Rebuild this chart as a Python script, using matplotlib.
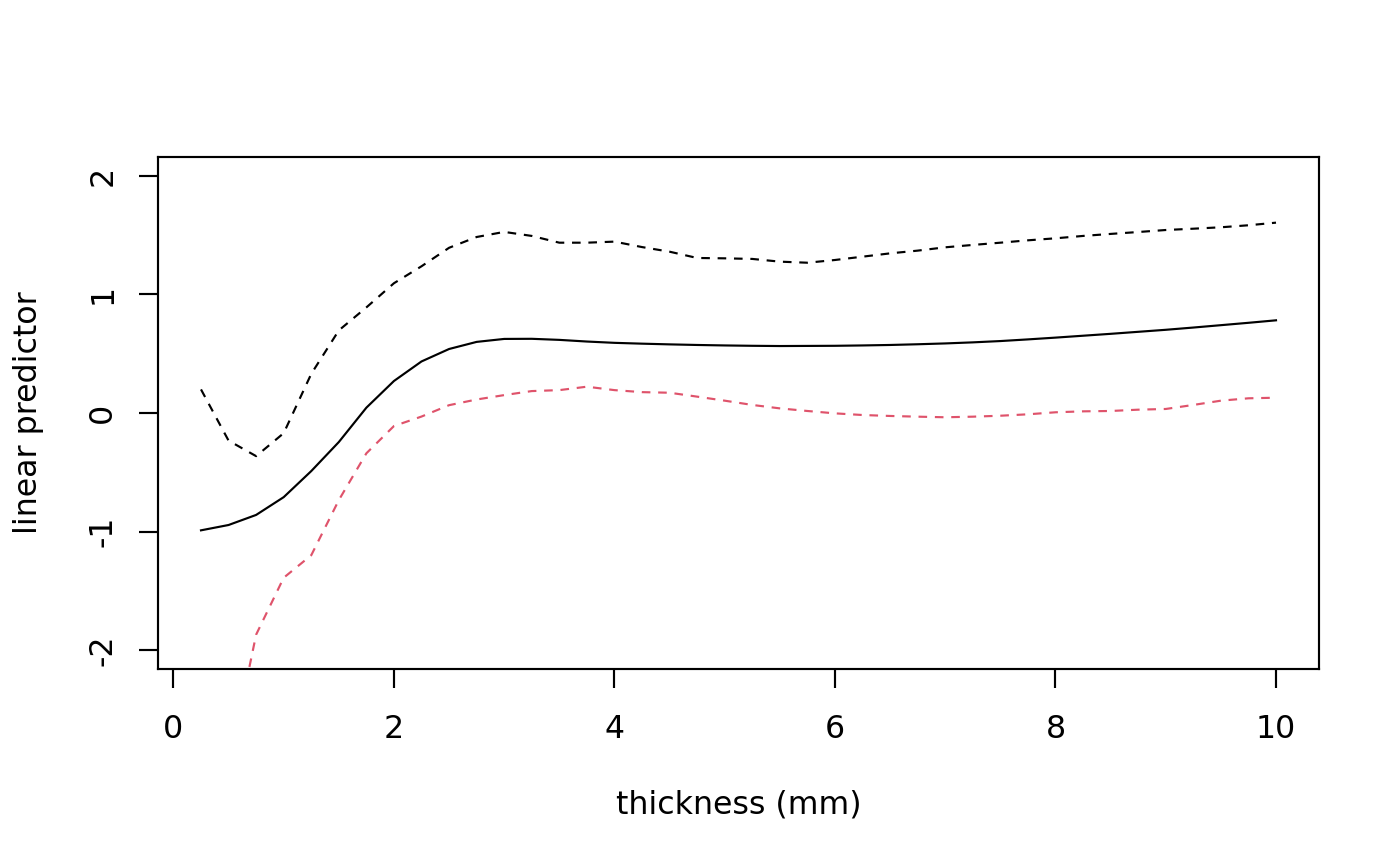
import numpy as np
import matplotlib
matplotlib.use("Agg")
import matplotlib.pyplot as plt

plt.rcParams["axes.unicode_minus"] = False

# thickness grid (mm)
thickness = np.arange(0.25, 10.01, 0.25)

# fitted linear predictor
fit = [-0.99, -0.945, -0.86, -0.71, -0.49, -0.245, 0.045, 0.27, 0.435, 0.54,
       0.60, 0.625, 0.626, 0.617, 0.603, 0.592, 0.585, 0.579, 0.574, 0.570,
       0.567, 0.565, 0.566, 0.567, 0.570, 0.574, 0.580, 0.587, 0.596, 0.607,
       0.621, 0.636, 0.652, 0.668, 0.685, 0.702, 0.721, 0.741, 0.761, 0.782]

# upper band (black dashed)
upper = [0.199, -0.233, -0.364, -0.17, 0.33, 0.697, 0.891, 1.095, 1.238, 1.394,
         1.485, 1.528, 1.494, 1.437, 1.437, 1.446, 1.40, 1.361, 1.308, 1.305,
         1.300, 1.277, 1.268, 1.291, 1.319, 1.347, 1.370, 1.398, 1.418, 1.437,
         1.457, 1.474, 1.494, 1.511, 1.527, 1.544, 1.555, 1.567, 1.584, 1.606]

# lower band (red dashed), first values fall below the plot window
lower = [-3.6, -2.99, -1.87, -1.39, -1.20, -0.735, -0.34, -0.11, -0.03, 0.066,
         0.114, 0.151, 0.185, 0.193, 0.222, 0.193, 0.176, 0.171, 0.138, 0.104,
         0.068, 0.039, 0.017, -0.003, -0.017, -0.025, -0.031, -0.036, -0.031, -0.023,
         -0.011, 0.006, 0.014, 0.017, 0.028, 0.034, 0.068, 0.104, 0.124, 0.129]

fs = 22.8
lw = 1.55

fig = plt.figure(figsize=(14, 8.66), dpi=100)
ax = fig.add_axes([158/1400, 1 - 669/866, (1319 - 158)/1400, (669 - 157)/866])

ax.plot(thickness, fit, color="black", lw=lw)
ax.plot(thickness, upper, color="black", lw=lw, dashes=(4, 3.6))
ax.plot(thickness, lower, color="#DF536B", lw=lw, dashes=(4, 3.6))

ax.set_xlim(-0.14, 10.39)
ax.set_ylim(-2.16, 2.16)
ax.set_xticks([0, 2, 4, 6, 8, 10])
ax.set_yticks([-2, -1, 0, 1, 2])

for s in ax.spines.values():
    s.set_linewidth(lw)

ax.tick_params(axis="both", length=13.7, width=lw, labelsize=fs)
ax.tick_params(axis="x", pad=19)
ax.tick_params(axis="y", pad=15)
for lab in ax.get_yticklabels():
    lab.set_rotation(90)
    lab.set_va("center")

ax.set_xlabel("thickness (mm)", fontsize=fs, labelpad=32)
ax.set_ylabel("linear predictor", fontsize=fs, labelpad=31)

fig.savefig("out.png", dpi=100)
